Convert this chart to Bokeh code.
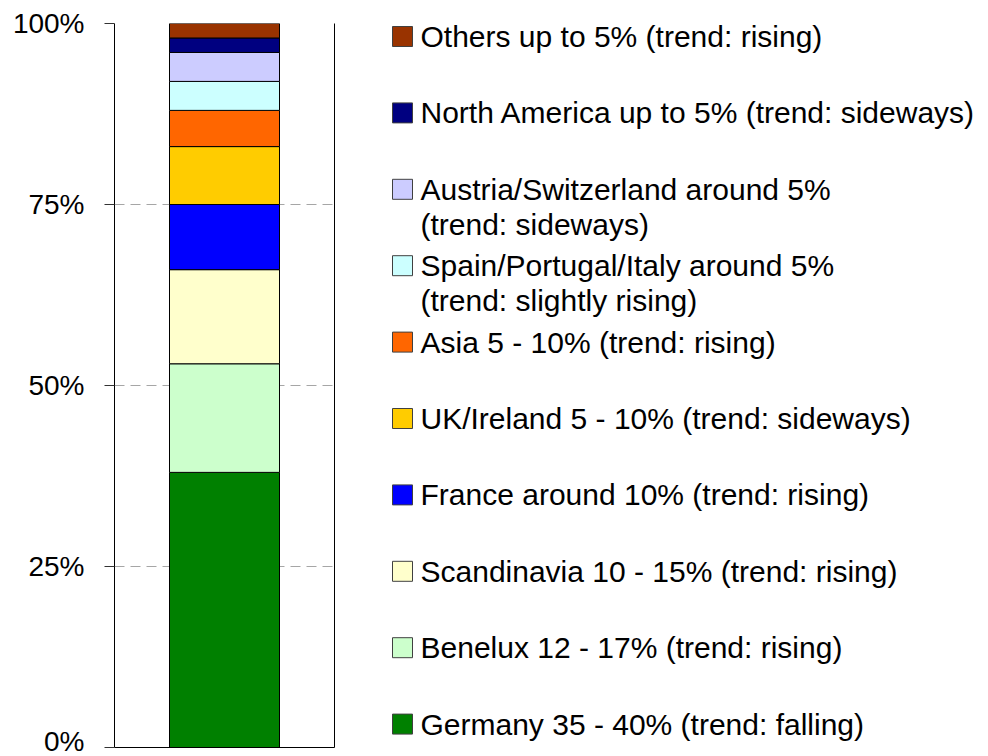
from bokeh.plotting import figure
from bokeh.models import (ColumnDataSource, FactorRange, Range1d, FixedTicker,
                          PrintfTickFormatter, LinearAxis)
from bokeh.layouts import row
from bokeh.embed import file_html
from bokeh.resources import INLINE
from bokeh.core.properties import value

# ---- data ----
bar_category = ["Sales"]
regions = ["Germany", "Benelux", "Scandinavia", "France", "UK/Ireland", "Asia",
           "Spain/Portugal/Italy", "Austria/Switzerland", "North America", "Others"]
shares = [38, 15, 13, 9, 8, 5, 4, 4, 2, 2]
colors = ["#008000", "#CCFFCC", "#FFFFCC", "#0000FF", "#FFCC00", "#FF6600",
          "#CCFFFF", "#CCCCFF", "#000080", "#993300"]
legend_labels = [
    "Germany 35 - 40% (trend: falling)",
    "Benelux 12 - 17% (trend: rising)",
    "Scandinavia 10 - 15% (trend: rising)",
    "France around 10% (trend: rising)",
    "UK/Ireland 5 - 10% (trend: sideways)",
    "Asia 5 - 10% (trend: rising)",
    "Spain/Portugal/Italy around 5%\n(trend: slightly rising)",
    "Austria/Switzerland around 5%\n(trend: sideways)",
    "North America up to 5% (trend: sideways)",
    "Others up to 5% (trend: rising)",
]
y_ticks = [0, 25, 50, 75, 100]

FONT = "Liberation Sans"
H = 756
TOP, BOTTOM = 23, 9          # frame borders (frame spans y 23..747)
MAIN_W = 370

# ---- main stacked bar ----
p = figure(x_range=FactorRange(*bar_category), y_range=Range1d(0, 100),
           width=MAIN_W, height=H, output_backend="svg", toolbar_location=None,
           min_border_left=114, min_border_right=36, min_border_top=TOP,
           min_border_bottom=BOTTOM)
p.outline_line_color = None

data = {"cat": bar_category}
for r, s in zip(regions, shares):
    data[r] = [s]
src = ColumnDataSource(data)
p.vbar_stack(regions, x="cat", width=0.5, fill_color=colors,
             line_color="black", line_width=1, source=src)

p.xaxis.ticker = FixedTicker(ticks=[])
p.xaxis.major_tick_line_color = None
p.xaxis.minor_tick_line_color = None
p.xaxis.major_tick_out = 0
p.xaxis.major_label_standoff = 0
p.xaxis.axis_line_color = "black"
p.xgrid.visible = False

p.yaxis.ticker = FixedTicker(ticks=y_ticks)
p.yaxis.formatter = PrintfTickFormatter(format="%d%%")
p.yaxis.major_label_text_font = FONT
p.yaxis.major_label_text_font_size = "28px"
p.yaxis.major_label_text_color = "black"
p.yaxis.major_tick_out = 10
p.yaxis.major_tick_in = 0
p.yaxis.minor_tick_line_color = None
p.yaxis.axis_line_color = "black"
p.yaxis.major_tick_line_color = "#333333"
p.yaxis.major_label_standoff = 20

p.ygrid.grid_line_color = "#a6a6a6"
p.ygrid.grid_line_dash = "10 6"
p.ygrid.grid_line_width = 1

right_axis = LinearAxis(ticker=FixedTicker(ticks=[]), axis_line_color="black",
                        major_tick_line_color=None, minor_tick_line_color=None,
                        major_tick_out=0, major_label_standoff=0)
p.add_layout(right_axis, "right")

# ---- legend panel (ranges map straight to page pixels) ----
LW = 988 - MAIN_W
pl = figure(width=LW, height=H,
            x_range=Range1d(MAIN_W, 988), y_range=Range1d(H - BOTTOM, TOP),
            output_backend="svg", toolbar_location=None,
            min_border_left=0, min_border_right=0,
            min_border_top=TOP, min_border_bottom=BOTTOM,
            x_axis_location=None, y_axis_location=None)
pl.outline_line_color = None
pl.grid.visible = False

n = len(regions)
first_y, step = 36, 76.4
sq_x, txt_x = 402, 420
sq_y, sq_colors = [], []
tx, ty, tt = [], [], []
for k in range(n):
    idx = n - 1 - k          # top item is the last stacked segment
    yk = first_y + k * step
    sq_y.append(yk)
    sq_colors.append(colors[idx])
    for j, line in enumerate(legend_labels[idx].split("\n")):
        tx.append(txt_x)
        ty.append(yk + j * 35)
        tt.append(line)

pl.rect(x=[sq_x] * n, y=sq_y, width=20, height=20, fill_color=sq_colors,
        line_color="#404040", line_width=1)
pl.text(x=tx, y=ty, text=tt, text_font=value(FONT), text_font_size="30px",
        text_baseline="middle", text_align="left", text_color="black")

layout = row(p, pl)
open("out.html", "w").write(file_html(layout, INLINE))
